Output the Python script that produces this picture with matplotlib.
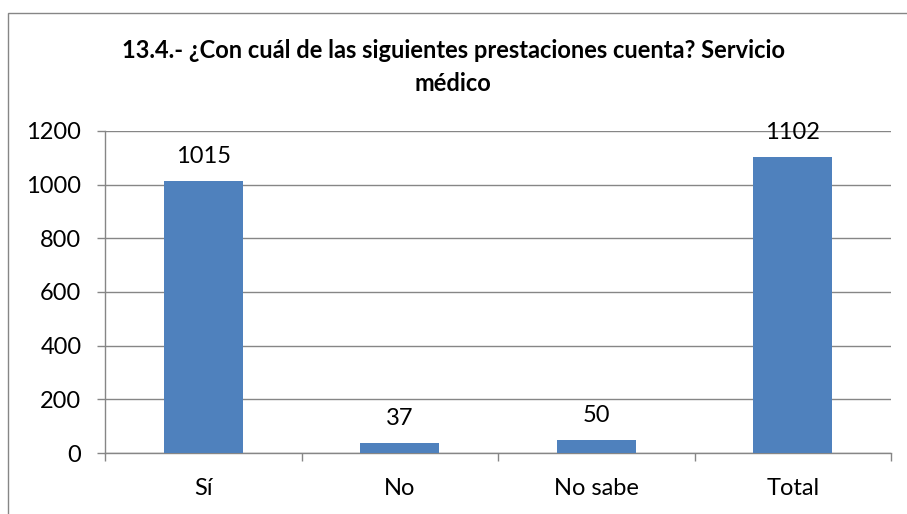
import matplotlib
matplotlib.use("Agg")
import matplotlib.pyplot as plt
from matplotlib.patches import Rectangle
import numpy as np

categories = ["Sí", "No", "No sabe", "Total"]
values = [1015, 37, 50, 1102]
yticks = [0, 200, 400, 600, 800, 1000, 1200]
title = "13.4.- ¿Con cuál de las siguientes prestaciones cuenta? Servicio\nmédico"

plt.rcParams['font.family'] = ['Lato', 'DejaVu Sans']

W, H = 907, 514
fig = plt.figure(figsize=(W / 100, H / 100), dpi=100)

# outer chart border (right/bottom cut off)
fig.patches.append(Rectangle((8 / W, -0.05), 1.2, (H - 12.5) / H + 0.05,
                             transform=fig.transFigure, fill=False,
                             edgecolor="#868686", linewidth=1.0))

left, right = 105, 891
top, bottom = 131, 453
ax = fig.add_axes([left / W, 1 - bottom / H, (right - left) / W, (bottom - top) / H])

x = np.arange(len(categories))
bars = ax.bar(x, values, width=0.4, color="#4F81BD", zorder=3)

ax.set_xlim(-0.5, len(categories) - 0.5)
ax.set_ylim(0, 1200)
ax.set_yticks(yticks)
ax.set_yticklabels([str(v) for v in yticks], fontsize=17)
ax.yaxis.grid(True, color="#868686", linewidth=1.0, zorder=0)

ax.set_xticks(x)
ax.set_xticklabels(categories, fontsize=17)
ax.tick_params(axis='x', length=0, pad=18)
ax.set_xticks(np.arange(-0.5, len(categories), 1.0), minor=True)
ax.tick_params(axis='x', which='minor', length=6, color="#868686", width=1.0, direction='out')
ax.tick_params(axis='y', length=6, color="#868686", width=1.0, direction='out', pad=11)

for s in ['top', 'right']:
    ax.spines[s].set_visible(False)
for s in ['left', 'bottom']:
    ax.spines[s].set_color("#868686")
    ax.spines[s].set_linewidth(1.0)

for xi, v in zip(x, values):
    ax.annotate(str(v), (xi, v), xytext=(0, 10), textcoords="offset points",
                ha="center", va="bottom", fontsize=17, color="black")

fig.text(453 / W, 1 - 67 / H, title, ha="center", va="center", fontsize=17,
         fontweight="bold", linespacing=1.5)

fig.savefig("out.png", dpi=100)
